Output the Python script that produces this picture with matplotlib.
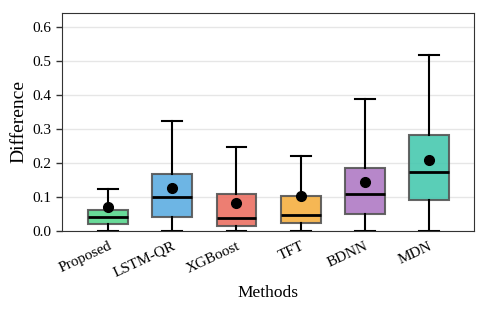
import matplotlib
matplotlib.use("Agg")
import matplotlib.pyplot as plt

plt.rcParams['font.family'] = ['Liberation Serif', 'DejaVu Serif']

methods = ["Proposed", "LSTM-QR", "XGBoost", "TFT", "BDNN", "MDN"]
whislo = [0.0, 0.0, 0.0, 0.0, 0.0, 0.0]
q1 = [0.021, 0.042, 0.016, 0.024, 0.051, 0.091]
med = [0.042, 0.101, 0.039, 0.046, 0.108, 0.174]
q3 = [0.063, 0.167, 0.110, 0.104, 0.185, 0.281]
whishi = [0.124, 0.324, 0.247, 0.222, 0.387, 0.516]
means = [0.070, 0.128, 0.082, 0.104, 0.145, 0.209]
colors = ["#58D68D", "#5DADE2", "#EC7063", "#F5B041", "#AF7AC5", "#48C9B0"]

fig = plt.figure(figsize=(4.88, 3.14), dpi=100)
ax = fig.add_axes([0.127, 0.264, 0.844, 0.695])

stats = []
for i, m in enumerate(methods):
    stats.append(dict(label=m, whislo=whislo[i], q1=q1[i], med=med[i],
                      q3=q3[i], whishi=whishi[i], mean=means[i], fliers=[]))

bp = ax.bxp(stats, positions=range(len(methods)), widths=0.62,
            patch_artist=True, showmeans=True, showfliers=False,
            boxprops=dict(edgecolor="#555555", linewidth=1.5),
            medianprops=dict(color="black", linewidth=2),
            whiskerprops=dict(color="black", linewidth=1.5),
            capprops=dict(color="black", linewidth=1.5),
            meanprops=dict(marker="o", markerfacecolor="black",
                           markeredgecolor="black", markersize=7))
for patch, c in zip(bp["boxes"], colors):
    patch.set_facecolor(c)
    patch.set_alpha(0.9)
    patch.set_edgecolor("#555555")

ax.set_xlim(-0.72, 5.7)
ax.set_ylim(0, 0.641)
ax.set_yticks([0.0, 0.1, 0.2, 0.3, 0.4, 0.5, 0.6])
ax.set_yticklabels(["0.0", "0.1", "0.2", "0.3", "0.4", "0.5", "0.6"], fontsize=11)
ax.set_xticks(range(len(methods)))
ax.set_xticklabels(methods, rotation=25, ha="right", rotation_mode="anchor", fontsize=11)
ax.tick_params(axis="x", length=0, pad=6)
ax.tick_params(axis="y", length=4, width=1, color="#333333")
for s in ax.spines.values():
    s.set_color("#333333")
ax.yaxis.grid(True, color="#e6e6e6", linewidth=1)
ax.set_axisbelow(True)
ax.set_ylabel("Difference", fontsize=14)
ax.set_xlabel("Methods", fontsize=12.5)

fig.savefig("out.png", dpi=100)
